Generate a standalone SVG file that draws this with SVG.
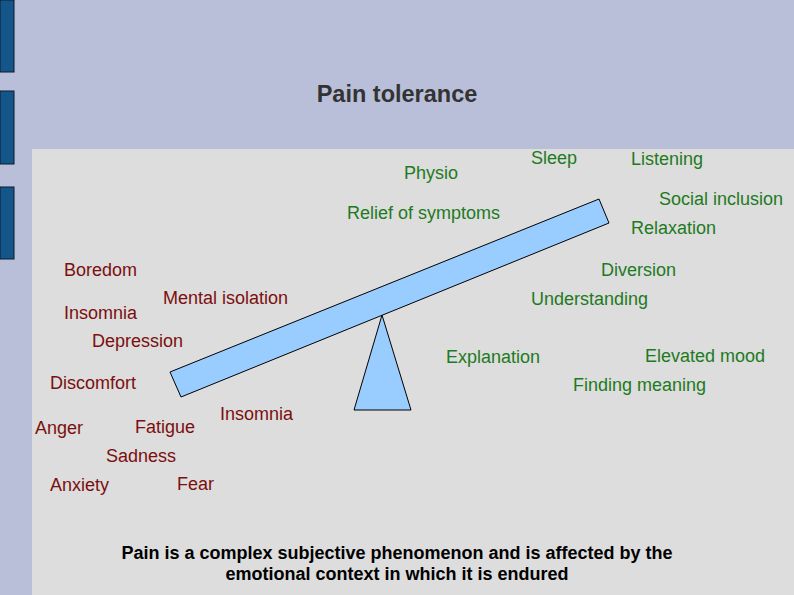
<svg xmlns="http://www.w3.org/2000/svg" width="794" height="595" viewBox="0 0 794 595">
<style>
text{font-family:"Liberation Sans",Arial,sans-serif;font-size:18px}
.r{fill:#7b0f0f}.g{fill:#1e7a1e}.k{fill:#000}
.bar{fill:#14568a;stroke:#0a1a2a;stroke-width:1}
.shape{fill:#99ccff;stroke:#000;stroke-width:1}
</style>
<rect width="794" height="595" fill="#b9bed9"/>
<rect x="32" y="149" width="762" height="446" fill="#dddddd"/>
<rect class="bar" x="0" y="0" width="14" height="72"/>
<rect class="bar" x="0" y="91" width="14" height="73"/>
<rect class="bar" x="0" y="187" width="14" height="72"/>
<g id="title"><text x="397" y="102" text-anchor="middle" style="font-size:23.5px;font-weight:bold;fill:#333">Pain tolerance</text></g>
<g id="seesaw">
<polygon class="shape" points="170,372 599,199 609,223 181,397"/>
<polygon class="shape" points="382,315 354,410 411,410"/>
</g>
<g id="negative">
<text class="r" x="64" y="276">Boredom</text>
<text class="r" x="64" y="319">Insomnia</text>
<text class="r" x="163" y="304">Mental isolation</text>
<text class="r" x="92" y="347">Depression</text>
<text class="r" x="50" y="389">Discomfort</text>
<text class="r" x="35" y="434">Anger</text>
<text class="r" x="135" y="433">Fatigue</text>
<text class="r" x="220" y="420">Insomnia</text>
<text class="r" x="106" y="462">Sadness</text>
<text class="r" x="50" y="491">Anxiety</text>
<text class="r" x="177" y="490">Fear</text>
</g>
<g id="positive">
<text class="g" x="404" y="179">Physio</text>
<text class="g" x="531" y="164">Sleep</text>
<text class="g" x="631" y="165">Listening</text>
<text class="g" x="659" y="205">Social inclusion</text>
<text class="g" x="347" y="219">Relief of symptoms</text>
<text class="g" x="631" y="234">Relaxation</text>
<text class="g" x="601" y="276">Diversion</text>
<text class="g" x="531" y="305">Understanding</text>
<text class="g" x="446" y="363">Explanation</text>
<text class="g" x="645" y="362">Elevated mood</text>
<text class="g" x="573" y="391">Finding meaning</text>
</g>
<g id="caption">
<text class="k" x="397" y="559" text-anchor="middle" style="font-size:18px;font-weight:bold">Pain is a complex subjective phenomenon and is affected by the</text>
<text class="k" x="397" y="580" text-anchor="middle" style="font-size:18px;font-weight:bold">emotional context in which it is endured</text>
</g>
</svg>
